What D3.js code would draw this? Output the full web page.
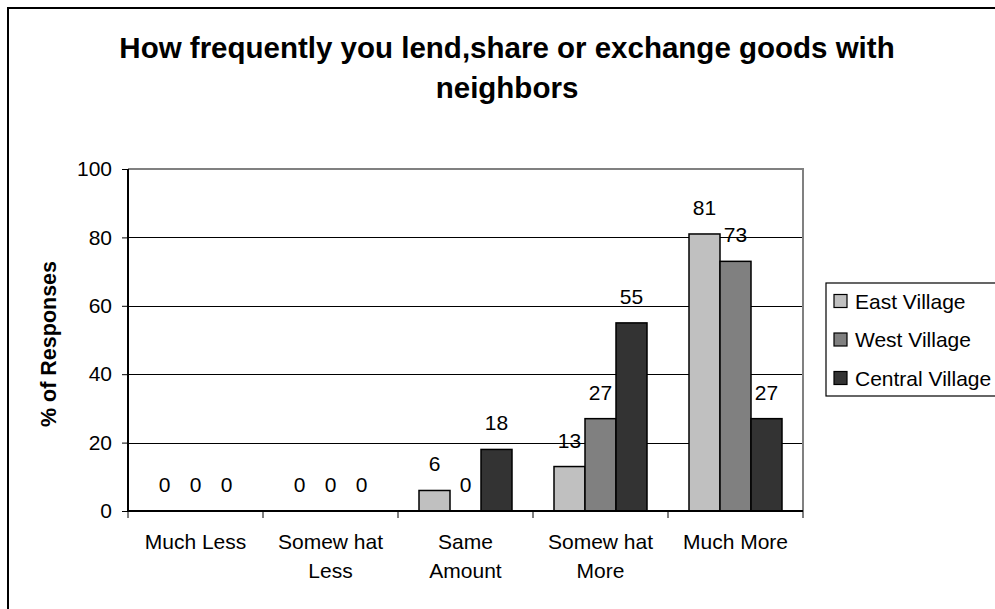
<!DOCTYPE html>
<html>
<head>
<meta charset="utf-8">
<script src="https://cdn.jsdelivr.net/npm/d3@7"></script>
<style>
  html, body { margin: 0; padding: 0; background: #fff; }
  svg { display: block; font-family: "Liberation Sans", Arial, sans-serif; }
</style>
</head>
<body>
<svg id="chart" width="995" height="609"></svg>
<script>
// Response categories (x axis), each label split into its drawn lines
const categories = ["Much Less", "Somewhat Less", "Same Amount", "Somewhat More", "Much More"];
const categoryLines = [["Much Less"], ["Somew hat", "Less"], ["Same", "Amount"], ["Somew hat", "More"], ["Much More"]];

// Series: % of responses per village
const seriesNames = ["East Village", "West Village", "Central Village"];
const eastVillage = [0, 0, 6, 13, 81];
const westVillage = [0, 0, 0, 27, 73];
const centralVillage = [0, 0, 18, 55, 27];
const seriesValues = [eastVillage, westVillage, centralVillage];
const seriesColors = ["#c0c0c0", "#808080", "#333333"];

// Y axis ticks
const yTicks = [0, 20, 40, 60, 80, 100];

const svg = d3.select("#chart");
const plot = { left: 128, right: 803, top: 169, bottom: 511 };

// Outer chart frame (extends past the visible area on the right and bottom)
svg.append("rect")
  .attr("x", 8).attr("y", 8).attr("width", 1100).attr("height", 800)
  .attr("fill", "none").attr("stroke", "#000").attr("stroke-width", 2);

// Title
const title = svg.append("text")
  .attr("text-anchor", "middle")
  .attr("font-weight", "bold").attr("font-size", 29.5).attr("fill", "#000");
title.append("tspan").attr("x", 507).attr("y", 58).text("How frequently you lend,share or exchange goods with");
title.append("tspan").attr("x", 507).attr("y", 98).text("neighbors");

// Scales
const x0 = d3.scaleBand().domain(categories).range([plot.left, plot.right]).padding(0);
const groupInset = (x0.bandwidth() - 93) / 2;
const x1 = d3.scaleBand().domain(seriesNames)
  .range([groupInset, x0.bandwidth() - groupInset]).padding(0);
const y = d3.scaleLinear().domain([0, 100]).range([plot.bottom, plot.top]);

// Gridlines
svg.append("g").selectAll("line")
  .data(yTicks.filter(t => t > 0 && t < 100))
  .join("line")
  .attr("x1", plot.left).attr("x2", plot.right)
  .attr("y1", d => Math.round(y(d)) + 0.5).attr("y2", d => Math.round(y(d)) + 0.5)
  .attr("stroke", "#000").attr("stroke-width", 1);

// Plot area border (top and right, grey)
svg.append("path")
  .attr("d", `M${plot.left},${y(100)}H${plot.right}V${plot.bottom}`)
  .attr("fill", "none").attr("stroke", "#808080").attr("stroke-width", 2);

// Bars
const rows = categories.map((c, i) => ({
  cat: c,
  vals: seriesNames.map((s, j) => ({ series: s, value: seriesValues[j][i], color: seriesColors[j] }))
}));

const groups = svg.append("g").selectAll("g")
  .data(rows).join("g")
  .attr("transform", d => `translate(${x0(d.cat)},0)`);

groups.selectAll("rect")
  .data(d => d.vals.filter(v => v.value > 0))
  .join("rect")
  .attr("x", d => x1(d.series))
  .attr("y", d => y(d.value))
  .attr("width", x1.bandwidth())
  .attr("height", d => y(0) - y(d.value))
  .attr("fill", d => d.color)
  .attr("stroke", "#000").attr("stroke-width", 1.5);

// Value labels
groups.selectAll("text")
  .data(d => d.vals)
  .join("text")
  .attr("x", d => x1(d.series) + x1.bandwidth() / 2)
  .attr("y", d => y(d.value) - 19)
  .attr("text-anchor", "middle")
  .attr("font-size", 21).attr("fill", "#000")
  .text(d => d.value);

// Y axis
const yAxis = svg.append("g")
  .attr("transform", `translate(${plot.left},0)`)
  .call(d3.axisLeft(y).tickValues(yTicks).tickSize(6).tickPadding(10).tickFormat(d3.format("d")));
yAxis.select(".domain").attr("stroke", "#000").attr("stroke-width", 2)
  .attr("d", `M0,${plot.top}V${plot.bottom}`);
yAxis.selectAll(".tick line").attr("stroke", "#000").attr("stroke-width", 1);
yAxis.selectAll(".tick text").attr("font-size", 21).attr("fill", "#000")
  .attr("font-family", "'Liberation Sans', Arial, sans-serif");

// X axis: ticks at category boundaries
const xAxisG = svg.append("g");
xAxisG.append("line")
  .attr("x1", plot.left).attr("x2", plot.right)
  .attr("y1", plot.bottom).attr("y2", plot.bottom)
  .attr("stroke", "#000").attr("stroke-width", 2);
const boundaries = categories.map(c => x0(c)).concat([x0(categories[categories.length - 1]) + x0.bandwidth()]);
xAxisG.selectAll("line.tick")
  .data(boundaries).join("line").attr("class", "tick")
  .attr("x1", d => d).attr("x2", d => d)
  .attr("y1", plot.bottom).attr("y2", plot.bottom + 7)
  .attr("stroke", "#000").attr("stroke-width", 1);

// Category labels
const catLabels = xAxisG.selectAll("text.cat")
  .data(categories).join("text").attr("class", "cat")
  .attr("text-anchor", "middle").attr("font-size", 21).attr("fill", "#000");
catLabels.each(function(d, i) {
  const t = d3.select(this);
  categoryLines[i].forEach((line, k) => {
    t.append("tspan")
      .attr("x", x0(d) + x0.bandwidth() / 2)
      .attr("y", 549 + k * 29)
      .text(line);
  });
});

// Y axis title
svg.append("text")
  .attr("transform", "translate(56,344) rotate(-90)")
  .attr("text-anchor", "middle")
  .attr("font-weight", "bold").attr("font-size", 21.5).attr("fill", "#000")
  .text("% of Responses");

// Legend
const legend = svg.append("g");
legend.append("rect")
  .attr("x", 826).attr("y", 283).attr("width", 200).attr("height", 113)
  .attr("fill", "#fff").attr("stroke", "#000").attr("stroke-width", 1.2);
const items = legend.selectAll("g.item")
  .data(seriesNames).join("g").attr("class", "item")
  .attr("transform", (d, i) => `translate(0,${301 + i * 38.5})`);
items.append("rect")
  .attr("x", 834).attr("y", -6.5).attr("width", 13).attr("height", 13)
  .attr("fill", (d, i) => seriesColors[i])
  .attr("stroke", "#000").attr("stroke-width", 1.2);
items.append("text")
  .attr("x", 855).attr("y", 7.5)
  .attr("font-size", 21).attr("fill", "#000")
  .text(d => d);
</script>
</body>
</html>
